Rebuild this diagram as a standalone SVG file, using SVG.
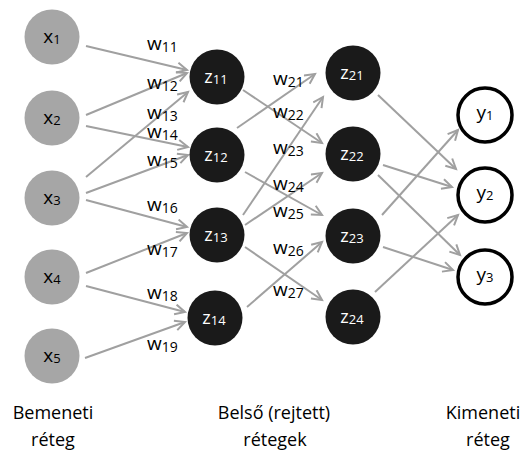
<svg xmlns="http://www.w3.org/2000/svg" width="522" height="453" viewBox="0 0 522 453">
<style>
.in{fill:#a6a6a6}
.hid{fill:#1a1a1a}
.out{fill:#fff;stroke:#000;stroke-width:3.5}
.edge{stroke:#a0a0a0;stroke-width:2;fill:none;marker-end:url(#arr)}
text{font-family:"Open Sans","Liberation Sans",sans-serif}
.nl{font-size:19px;fill:#000;text-anchor:middle}
.hl{font-size:18px;fill:#fff;text-anchor:middle}
.sub{font-size:13px}
.w{font-size:19px;fill:#000}
.ws{font-size:14px}
.cap{font-size:18px;fill:#000;text-anchor:middle}
</style>
<defs>
<marker id="arr" markerUnits="userSpaceOnUse" markerWidth="14" markerHeight="14" refX="11" refY="6" orient="auto">
<path d="M1,1 L11,6 L1,11" fill="none" stroke="#a0a0a0" stroke-width="2"/>
</marker>
</defs>
<g id="connectors">
<line class="edge" x1="86" y1="46" x2="187" y2="70"/>
<line class="edge" x1="86" y1="115" x2="187" y2="73"/>
<line class="edge" x1="86" y1="177" x2="188" y2="92"/>
<line class="edge" x1="86" y1="126" x2="188" y2="147"/>
<line class="edge" x1="86" y1="193" x2="188" y2="155"/>
<line class="edge" x1="86" y1="200" x2="187" y2="227"/>
<line class="edge" x1="86" y1="273" x2="187" y2="233"/>
<line class="edge" x1="86" y1="286" x2="185" y2="312"/>
<line class="edge" x1="85" y1="358" x2="185" y2="322"/>
<line class="edge" x1="243" y1="90" x2="322" y2="143"/>
<line class="edge" x1="237" y1="128" x2="315" y2="74"/>
<line class="edge" x1="243" y1="215" x2="323" y2="97"/>
<line class="edge" x1="245" y1="172" x2="322" y2="215"/>
<line class="edge" x1="245" y1="225" x2="322" y2="173"/>
<line class="edge" x1="247" y1="307" x2="322" y2="242"/>
<line class="edge" x1="245" y1="247" x2="322" y2="300"/>
<line class="edge" x1="378" y1="95" x2="456" y2="169"/>
<line class="edge" x1="383" y1="165" x2="452" y2="187"/>
<line class="edge" x1="378" y1="175" x2="460" y2="255"/>
<line class="edge" x1="382" y1="215" x2="458" y2="130"/>
<line class="edge" x1="383" y1="247" x2="453" y2="270"/>
<line class="edge" x1="375" y1="292" x2="458" y2="215"/>
</g>
<g id="weights">
<text class="w" x="147" y="50">w<tspan class="ws" dy="2">11</tspan></text>
<text class="w" x="147" y="89">w<tspan class="ws" dy="2">12</tspan></text>
<text class="w" x="147" y="119">w<tspan class="ws" dy="2">13</tspan></text>
<text class="w" x="147" y="138">w<tspan class="ws" dy="2">14</tspan></text>
<text class="w" x="147" y="166">w<tspan class="ws" dy="2">15</tspan></text>
<text class="w" x="147" y="211">w<tspan class="ws" dy="2">16</tspan></text>
<text class="w" x="147" y="255">w<tspan class="ws" dy="2">17</tspan></text>
<text class="w" x="147" y="299">w<tspan class="ws" dy="2">18</tspan></text>
<text class="w" x="147" y="350">w<tspan class="ws" dy="2">19</tspan></text>
<text class="w" x="273" y="85">w<tspan class="ws" dy="2">21</tspan></text>
<text class="w" x="273" y="118">w<tspan class="ws" dy="2">22</tspan></text>
<text class="w" x="273" y="154">w<tspan class="ws" dy="2">23</tspan></text>
<text class="w" x="273" y="190">w<tspan class="ws" dy="2">24</tspan></text>
<text class="w" x="273" y="217">w<tspan class="ws" dy="2">25</tspan></text>
<text class="w" x="273" y="254">w<tspan class="ws" dy="2">26</tspan></text>
<text class="w" x="273" y="296">w<tspan class="ws" dy="2">27</tspan></text>
</g>
<g id="x1"><circle class="in" cx="52" cy="37" r="27.5"/><text class="nl" x="52" y="43">x<tspan class="sub" dy="1">1</tspan></text></g>
<g id="x2"><circle class="in" cx="52" cy="118" r="27.5"/><text class="nl" x="52" y="124">x<tspan class="sub" dy="1">2</tspan></text></g>
<g id="x3"><circle class="in" cx="52" cy="198" r="27.5"/><text class="nl" x="52" y="204">x<tspan class="sub" dy="1">3</tspan></text></g>
<g id="x4"><circle class="in" cx="52" cy="277" r="27.5"/><text class="nl" x="52" y="283">x<tspan class="sub" dy="1">4</tspan></text></g>
<g id="x5"><circle class="in" cx="52" cy="356" r="27.5"/><text class="nl" x="52" y="362">x<tspan class="sub" dy="1">5</tspan></text></g>
<g id="z11"><circle class="hid" cx="217" cy="77" r="27.5"/><text class="hl" x="216" y="83">z<tspan class="sub" dy="1">11</tspan></text></g>
<g id="z12"><circle class="hid" cx="217" cy="155" r="27.5"/><text class="hl" x="216" y="161">z<tspan class="sub" dy="1">12</tspan></text></g>
<g id="z13"><circle class="hid" cx="217" cy="235" r="27.5"/><text class="hl" x="216" y="241">z<tspan class="sub" dy="1">13</tspan></text></g>
<g id="z14"><circle class="hid" cx="215" cy="318" r="27.5"/><text class="hl" x="214" y="324">z<tspan class="sub" dy="1">14</tspan></text></g>
<g id="z21"><circle class="hid" cx="353" cy="73" r="27.5"/><text class="hl" x="352" y="79">z<tspan class="sub" dy="1">21</tspan></text></g>
<g id="z22"><circle class="hid" cx="353" cy="154" r="27.5"/><text class="hl" x="352" y="160">z<tspan class="sub" dy="1">22</tspan></text></g>
<g id="z23"><circle class="hid" cx="353" cy="236" r="27.5"/><text class="hl" x="352" y="242">z<tspan class="sub" dy="1">23</tspan></text></g>
<g id="z24"><circle class="hid" cx="353" cy="317" r="27.5"/><text class="hl" x="352" y="323">z<tspan class="sub" dy="1">24</tspan></text></g>
<g id="y1"><circle class="out" cx="485" cy="115" r="27"/><text class="nl" x="485" y="119">y<tspan class="sub" dy="1">1</tspan></text></g>
<g id="y2"><circle class="out" cx="485" cy="195" r="27"/><text class="nl" x="485" y="199">y<tspan class="sub" dy="1">2</tspan></text></g>
<g id="y3"><circle class="out" cx="485" cy="277" r="27"/><text class="nl" x="485" y="281">y<tspan class="sub" dy="1">3</tspan></text></g>
<g id="captions">
<text class="cap" x="53" y="419">Bemeneti</text>
<text class="cap" x="53" y="446">réteg</text>
<text class="cap" x="274" y="419">Belső (rejtett)</text>
<text class="cap" x="275" y="446">rétegek</text>
<text class="cap" x="483" y="419">Kimeneti</text>
<text class="cap" x="488" y="446">réteg</text>
</g>
</svg>
